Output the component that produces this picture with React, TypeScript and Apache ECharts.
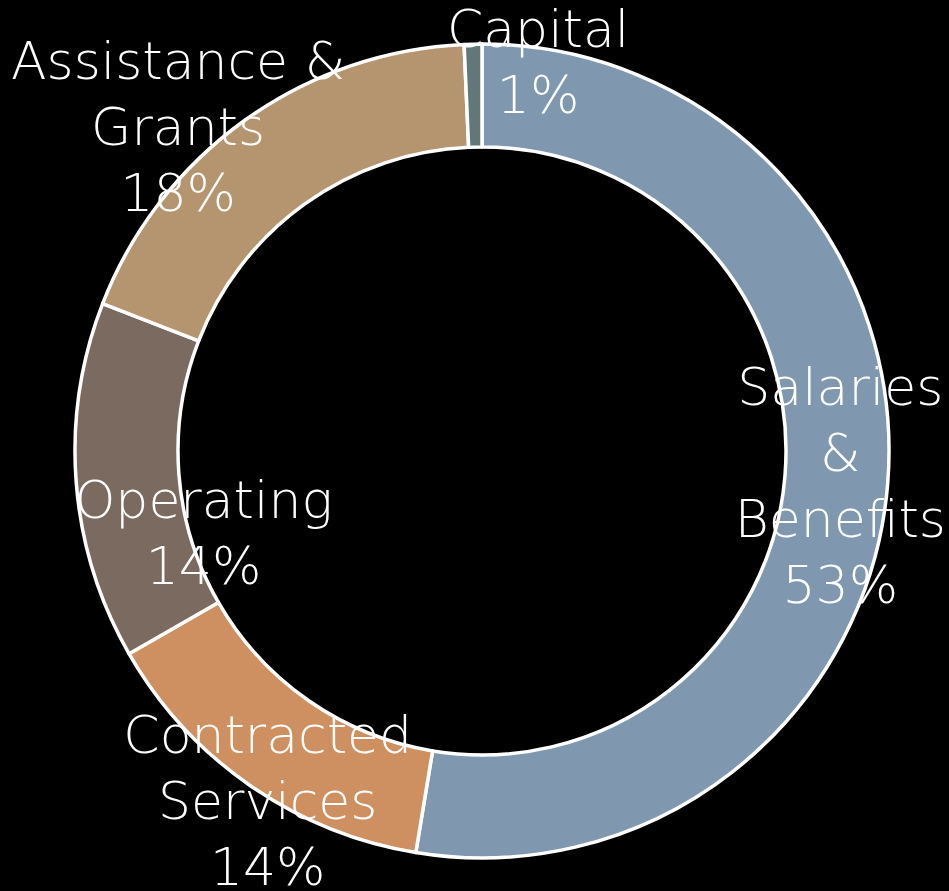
import React, { useEffect, useRef } from "react";
import * as echarts from "echarts";

const categories = ["Salaries & Benefits", "Contracted Services", "Operating", "Assistance & Grants", "Capital"];
const labelText = ["Salaries\n&\nBenefits", "Contracted\nServices", "Operating", "Assistance &\nGrants", "Capital"];
const values = [52.6, 14.1, 14.2, 18.4, 0.7];
const colors = ["#7F98AF", "#CE8F61", "#7A6A5F", "#B5956F", "#627878"];
const labelOffsets: [number, number][] = [[1, 6], [-10, 55], [79, 55], [-95, -33], [64, -31]];

export default function App() {
  const ref = useRef<HTMLDivElement>(null);
  useEffect(() => {
    document.body.style.margin = "0";
    document.body.style.background = "#000";
    const chart = echarts.init(ref.current!, undefined, { renderer: "svg" });
    chart.setOption({
      animation: false,
      backgroundColor: "#000000",
      series: [
        {
          type: "pie",
          center: [482, 451],
          radius: [304, 407],
          startAngle: 90,
          clockwise: true,
          percentPrecision: 0,
          avoidLabelOverlap: false,
          itemStyle: { borderColor: "#ffffff", borderWidth: 3.5 },
          labelLine: { show: false },
          data: categories.map((c, i) => ({
            name: c,
            value: values[i],
            itemStyle: { color: colors[i] },
            label: {
              show: true,
              position: "inside",
              offset: labelOffsets[i],
              formatter: (p: any) => labelText[i] + "\n" + p.percent + "%",
              color: "#ffffff",
              fontFamily: "DejaVu Sans",
              fontWeight: 200,
              fontSize: 52,
              lineHeight: 66,
              align: "center",
            },
          })),
        },
      ],
    });
    return () => chart.dispose();
  }, []);
  return <div ref={ref} style={{ width: 949, height: 891, background: "#000" }} />;
}
